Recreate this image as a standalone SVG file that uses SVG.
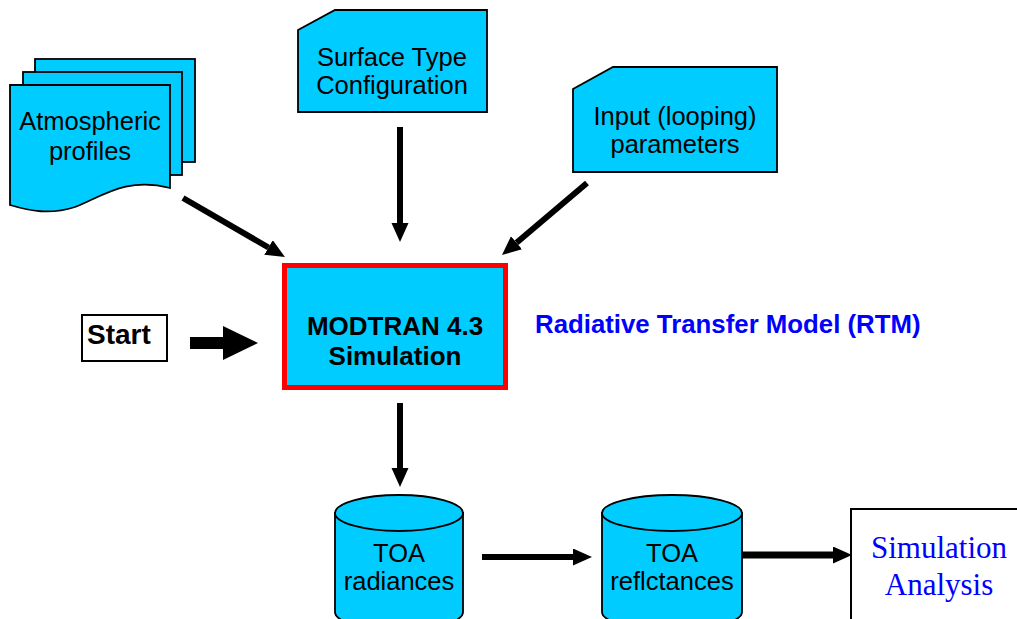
<svg xmlns="http://www.w3.org/2000/svg" width="1017" height="619" viewBox="0 0 1017 619">
<style>
.sh{fill:#00CCFF;stroke:#000;stroke-width:1.8}
.t{font-family:"Liberation Sans",Arial,sans-serif;font-size:25.5px;fill:#000;text-anchor:middle}
.b{font-weight:bold;font-size:26px}
.c{fill:none;stroke:#000;stroke-width:6}
.s{font-family:"Liberation Serif","Times New Roman",serif;font-size:31px;fill:#0000FF;text-anchor:middle}
</style>
<defs>
<marker id="ah" markerUnits="userSpaceOnUse" markerWidth="20" markerHeight="18" refX="0" refY="8.5" orient="auto">
<path d="M0,0 L19,8.5 L0,17 Z" fill="#000"/>
</marker>
</defs>
<rect width="1017" height="619" fill="#fff"/>
<g id="atmospheric">
<rect class="sh" x="35" y="59" width="160" height="103"/>
<rect class="sh" x="23" y="72" width="159" height="103"/>
<path class="sh" d="M10,85 H170 V188 C125,176 100,198 75,207 C50,215 30,211 10,205 Z"/>
<text class="t" x="90" y="130">Atmospheric</text>
<text class="t" x="90" y="160">profiles</text>
</g>
<g id="surface">
<path class="sh" d="M298,30 L335,10 H487 V112 H298 Z"/>
<text class="t" x="392" y="66">Surface Type</text>
<text class="t" x="392" y="94">Configuration</text>
</g>
<g id="input">
<path class="sh" d="M573,89 L613,67 H777 V172 H573 Z"/>
<text class="t" x="675" y="125">Input (looping)</text>
<text class="t" x="675" y="153">parameters</text>
</g>
<g id="start">
<rect x="82" y="315" width="85" height="46" fill="#fff" stroke="#000" stroke-width="2"/>
<text class="t b" x="87" y="344" style="text-anchor:start;font-size:28px">Start</text>
</g>
<g id="modtran">
<rect x="284.5" y="265.5" width="221" height="122" fill="#00CCFF" stroke="#FF0000" stroke-width="5"/>
<text class="t b" x="395" y="335">MODTRAN 4.3</text>
<text class="t b" x="395" y="365">Simulation</text>
</g>
<g id="rtm-label">
<text class="t b" x="535" y="333" style="text-anchor:start;fill:#0000FF;font-size:25.8px">Radiative Transfer Model (RTM)</text>
</g>
<g id="toa-radiances">
<path class="sh" d="M335,513 V612 A64,18 0 0 0 463,612 V513 Z"/>
<ellipse class="sh" cx="399" cy="513" rx="64" ry="18"/>
<text class="t" x="399" y="562">TOA</text>
<text class="t" x="399" y="590">radiances</text>
</g>
<g id="toa-reflectances">
<path class="sh" d="M602,513 V612 A70,18 0 0 0 742,612 V513 Z"/>
<ellipse class="sh" cx="672" cy="513" rx="70" ry="18"/>
<text class="t" x="672" y="562">TOA</text>
<text class="t" x="672" y="590">reflctances</text>
</g>
<g id="analysis">
<rect x="851" y="509" width="200" height="150" fill="#fff" stroke="#000" stroke-width="2"/>
<text class="s" x="939" y="558">Simulation</text>
<text class="s" x="939" y="595">Analysis</text>
</g>
<g id="connectors">
<line class="c" x1="183" y1="198" x2="268.5" y2="247.5" marker-end="url(#ah)"/>
<line class="c" x1="400" y1="127" x2="400" y2="223" marker-end="url(#ah)"/>
<line class="c" x1="587" y1="183" x2="516.5" y2="242.7" marker-end="url(#ah)"/>
<line class="c" x1="400" y1="403" x2="400" y2="468" marker-end="url(#ah)"/>
<line class="c" x1="482" y1="557" x2="573" y2="557" marker-end="url(#ah)"/>
<line class="c" x1="742" y1="555" x2="833" y2="555" style="stroke-width:7" marker-end="url(#ah)"/>
<polygon points="190,337 223,337 223,326 258,343 223,360 223,349 190,349" fill="#000"/>
</g>
</svg>
